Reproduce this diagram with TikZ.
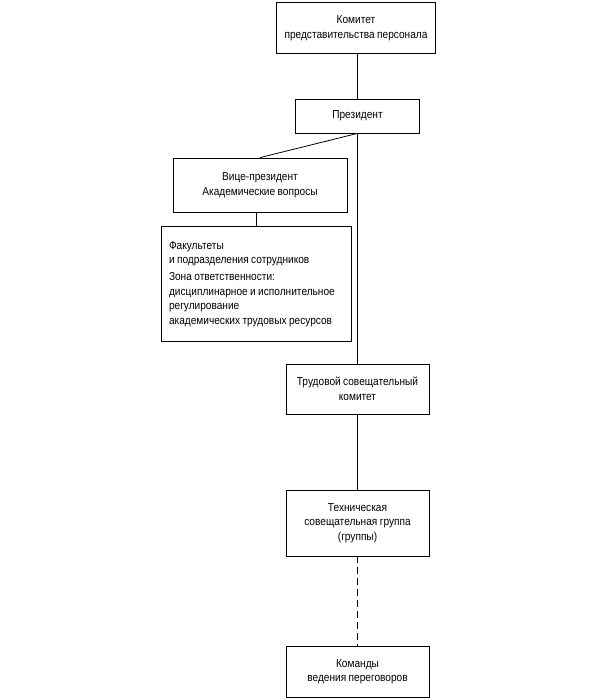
\documentclass[tikz,border=0pt]{standalone}
\usepackage{fontspec}
\setmainfont{Liberation Sans}[FakeStretch=0.88, WordSpace=0.85]
\usetikzlibrary{positioning}

\begin{document}
\begin{tikzpicture}[
    x=1pt, y=-1pt,
    unit/.style={rectangle, draw, line width=0.8pt, align=center, inner sep=0pt,
                 font=\fontsize{11.5}{14.5}\selectfont},
    link/.style={line width=0.8pt}
]

\useasboundingbox (0,0) rectangle (600,700);

% Top of the structure
\node[unit, minimum width=159pt, minimum height=51pt] (comm) at (356, 28) {Комитет\\представительства персонала};
\node[unit, minimum width=124pt, minimum height=34pt] (pres) at (357.5, 116) {Президент};

% Academic branch
\node[unit, minimum width=174pt, minimum height=54pt] (vp) at (260, 185) {Вице-президент\\Академические вопросы};
\node[unit, minimum width=190pt, minimum height=115pt, align=flush left, text width=174pt] (fac) at (256, 284)
    {Факультеты\\и подразделения сотрудников\\[2.5pt]
     Зона ответственности:\\дисциплинарное и исполнительное\\регулирование\\академических трудовых ресурсов};

% Labour branch
\node[unit, minimum width=143pt, minimum height=50pt] (labour) at (357.5, 389) {Трудовой совещательный\\комитет};
\node[unit, minimum width=143pt, minimum height=66pt] (tech) at (357.5, 523) {Техническая\\совещательная группа\\(группы)};
\node[unit, minimum width=143pt, minimum height=51pt] (teams) at (357.5, 671.5) {Команды\\ведения переговоров};

% Connectors
\draw[link] (comm.south -| pres.north) -- (pres.north);
\draw[link] (pres.south) -- (vp.north);
\draw[link] (vp.south -| fac.north) -- (fac.north);
\draw[link] (pres.south) -- (labour.north);
\draw[link] (labour.south) -- (tech.north);
\draw[link, dash pattern=on 7pt off 4pt] (tech.south) -- (teams.north);

\end{tikzpicture}
\end{document}
